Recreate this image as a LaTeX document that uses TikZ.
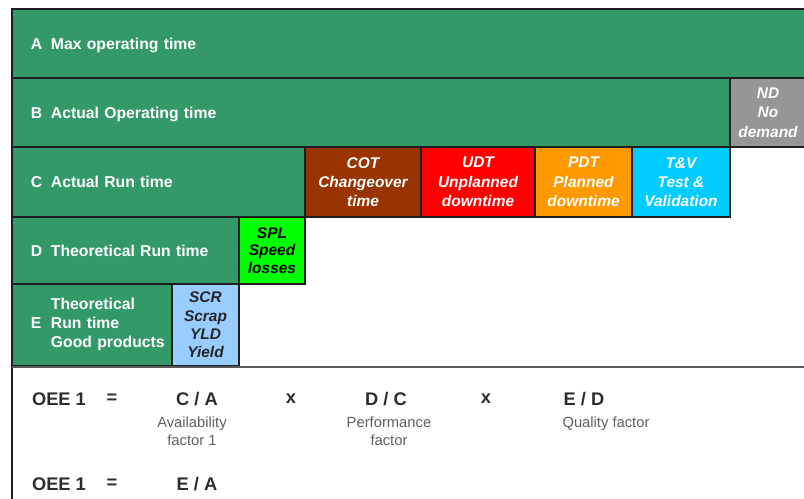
\documentclass[tikz,border=0pt]{standalone}
\usepackage{fontspec}
\setmainfont{Liberation Sans}
\usepackage{tikz}
\definecolor{rowgreen}{RGB}{51,153,102}
\definecolor{cotbrown}{RGB}{153,51,0}
\definecolor{udtred}{RGB}{255,0,0}
\definecolor{pdtorange}{RGB}{255,153,0}
\definecolor{tvcyan}{RGB}{0,204,255}
\definecolor{ndgray}{RGB}{150,150,150}
\definecolor{splgreen}{RGB}{0,255,0}
\definecolor{scrblue}{RGB}{153,204,255}
\definecolor{boxline}{RGB}{30,30,30}
\definecolor{formulagray}{RGB}{45,45,45}
\definecolor{notegray}{RGB}{95,95,95}
\newcommand{\rowfont}{\fontsize{11.2}{13.5}\selectfont\bfseries}
\newcommand{\lossfont}{\fontsize{11}{13.7}\selectfont\bfseries\itshape}
\newcommand{\rowletter}[1]{\makebox[0.5cm][l]{#1}}

\begin{document}
\begin{tikzpicture}[x=0.025cm,y=-0.025cm,
  row/.style={draw=boxline,line width=0.9pt,fill=rowgreen,text=white,font=\rowfont,align=left,inner xsep=0.475cm,inner ysep=0pt,outer sep=0pt},
  loss/.style={draw=boxline,line width=0.9pt,text=white,font=\lossfont,align=center,inner sep=0pt,outer sep=0pt},
  formula/.style={font=\fontsize{13}{15}\selectfont\bfseries,text=formulagray},
  note/.style={font=\fontsize{10.5}{12.8}\selectfont,text=notegray,align=center}]
  \clip (0,0) rectangle (804,499);

  \node at (409,43.5) [row,text width=18.9cm,text depth=0pt,minimum height=1.725cm] (A) {\rowletter{A}Max operating time};
  \node at (371,112.5) [row,text width=17cm,text depth=0pt,minimum height=1.725cm] (B) {\rowletter{B}Actual Operating time};
  \node at (768,112.5) [loss,fill=ndgray,minimum width=1.9cm,minimum height=1.725cm] (ND) {ND\\No\\demand};

  \node at (158.5,182) [row,text width=6.375cm,text depth=0pt,minimum height=1.75cm] (C) {\rowletter{C}Actual Run time};
  \node at (363,182) [loss,fill=cotbrown,minimum width=2.9cm,minimum height=1.75cm] (COT) {COT\\Changeover\\time};
  \node at (478,182) [loss,fill=udtred,minimum width=2.85cm,minimum height=1.75cm] (UDT) {UDT\\Unplanned\\downtime};
  \node at (583.5,182) [loss,fill=pdtorange,minimum width=2.425cm,minimum height=1.75cm] (PDT) {PDT\\Planned\\downtime};
  \node at (681,182) [loss,fill=tvcyan,minimum width=2.45cm,minimum height=1.75cm] (TV) {T\&V\\Test \&\\Validation};

  \node at (125.5,250.5) [row,text width=4.725cm,text depth=0pt,minimum height=1.675cm] (D) {\rowletter{D}Theoretical Run time};
  \node at (272,250.5) [loss,fill=splgreen,text=black,font=\fontsize{11}{12.5}\selectfont\bfseries\itshape,minimum width=1.65cm,minimum height=1.675cm] (SPL) {SPL\\Speed\\losses};

  \node at (92,325) [row,text width=3.05cm,minimum height=2.05cm] (E) {\rowletter{E}\begin{tabular}{@{}l@{}}Theoretical\\Run time\\Good products\end{tabular}};
  \node at (205.5,325) [loss,fill=scrblue,text=black!85,font=\fontsize{11}{13}\selectfont\bfseries\itshape,minimum width=1.675cm,minimum height=2.05cm] (SCR) {SCR\\Scrap\\YLD\\Yield};

  \draw[boxline,line width=0.9pt] (12,9) -- (12,499);
  \draw[black!65,line width=1.6pt] (12,367) -- (806,367);

  \node at (59,399) [formula] (oeeA) {OEE 1};
  \node at (112,399) [formula] (eqA) {=};
  \node at (197,399) [formula] (ca) {C / A};
  \node at (291,399) [formula] (timesA) {x};
  \node at (386,399) [formula] (dc) {D / C};
  \node at (486,399) [formula] (timesB) {x};
  \node at (584,399) [formula] (ed) {E / D};
  \node at (192,431) [note] (avail) {Availability\\factor 1};
  \node at (389,431) [note] (perf) {Performance\\factor};
  \node at (606,424) [note] (qual) {Quality factor};

  \node at (59,484) [formula] (oeeB) {OEE 1};
  \node at (112,484) [formula] (eqB) {=};
  \node at (197,484) [formula] (ea) {E / A};
\end{tikzpicture}
\end{document}
